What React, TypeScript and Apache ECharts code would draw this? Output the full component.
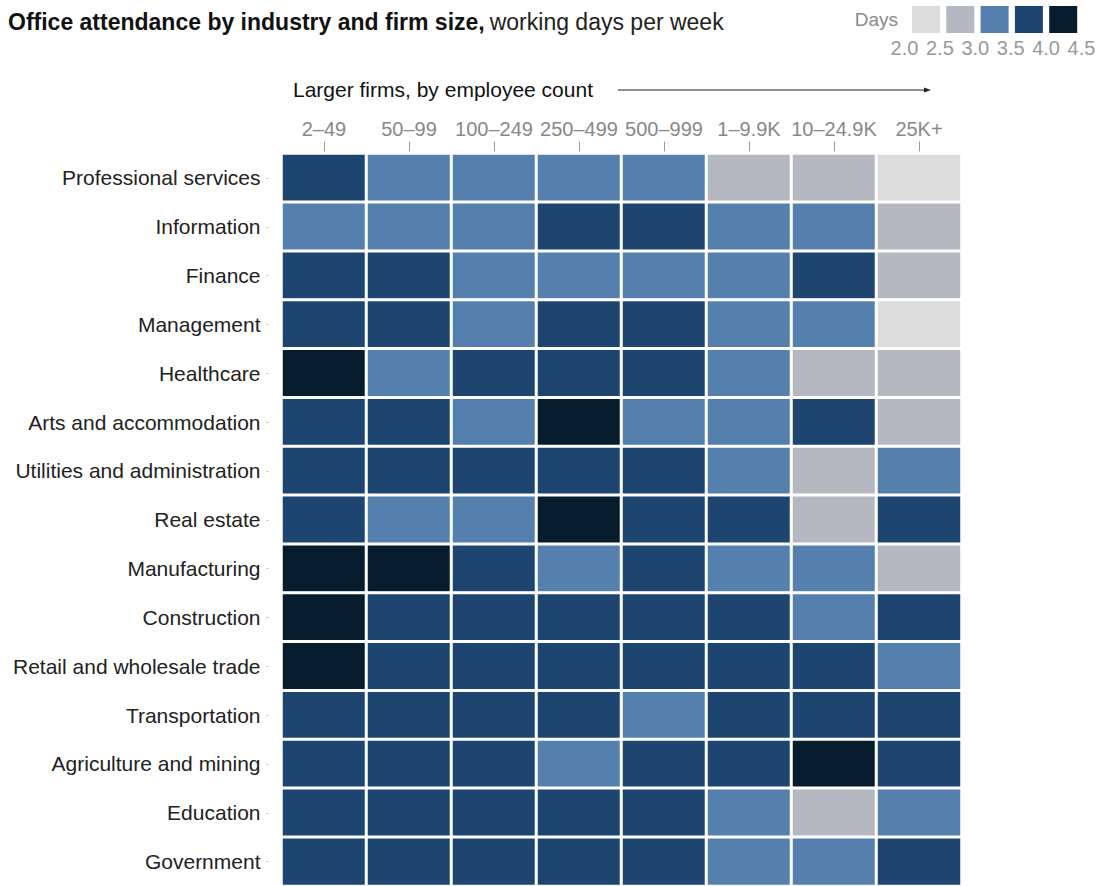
import React, { useEffect, useRef } from "react";
import * as echarts from "echarts";

const firmSizes = ["2–49", "50–99", "100–249", "250–499", "500–999", "1–9.9K", "10–24.9K", "25K+"];

const industries = [
  "Professional services",
  "Information",
  "Finance",
  "Management",
  "Healthcare",
  "Arts and accommodation",
  "Utilities and administration",
  "Real estate",
  "Manufacturing",
  "Construction",
  "Retail and wholesale trade",
  "Transportation",
  "Agriculture and mining",
  "Education",
  "Government",
];

// working days per week, by industry (rows) and firm size (columns)
const attendance: number[][] = [
  [3.7, 3.2, 3.3, 3.2, 3.1, 2.8, 2.7, 2.3],
  [3.3, 3.2, 3.2, 3.6, 3.6, 3.2, 3.1, 2.7],
  [3.7, 3.6, 3.3, 3.2, 3.2, 3.1, 3.6, 2.7],
  [3.8, 3.7, 3.3, 3.6, 3.6, 3.2, 3.1, 2.4],
  [4.1, 3.3, 3.7, 3.7, 3.6, 3.2, 2.8, 2.8],
  [3.8, 3.7, 3.3, 4.1, 3.4, 3.3, 3.6, 2.8],
  [3.8, 3.7, 3.7, 3.6, 3.6, 3.3, 2.9, 3.2],
  [3.8, 3.4, 3.3, 4.1, 3.7, 3.6, 2.9, 3.6],
  [4.1, 4.0, 3.8, 3.4, 3.7, 3.3, 3.3, 2.9],
  [4.2, 3.9, 3.8, 3.8, 3.7, 3.6, 3.4, 3.6],
  [4.1, 3.9, 3.8, 3.8, 3.7, 3.7, 3.6, 3.3],
  [3.9, 3.8, 3.8, 3.7, 3.4, 3.6, 3.6, 3.6],
  [3.9, 3.8, 3.8, 3.4, 3.7, 3.6, 4.1, 3.7],
  [3.8, 3.8, 3.7, 3.7, 3.6, 3.3, 2.9, 3.2],
  [3.8, 3.7, 3.7, 3.7, 3.6, 3.3, 3.2, 3.6],
];

const dayThresholds = [2.0, 2.5, 3.0, 3.5, 4.0, 4.5];
const binColors = ["#dcdcdc", "#b5b8c0", "#5580ad", "#1d456f", "#071d2d"];

const FONT = "'Liberation Sans', Arial, sans-serif";

export default function App() {
  const ref = useRef<HTMLDivElement>(null);

  useEffect(() => {
    if (!ref.current) return;
    const chart = echarts.init(ref.current, null, { renderer: "svg" });

    const data: [number, number, number][] = [];
    attendance.forEach((row, r) => row.forEach((v, c) => data.push([c, r, v])));

    const pieces = binColors.map((color, i) => ({
      gte: dayThresholds[i],
      lt: dayThresholds[i + 1],
      color,
    }));

    const legendEls: any[] = [
      {
        type: "text",
        x: 898,
        y: 19,
        style: {
          text: "Days",
          font: `19px ${FONT}`,
          fill: "#8a8a8a",
          align: "right",
          verticalAlign: "middle",
        },
      },
    ];
    binColors.forEach((color, i) => {
      legendEls.push({
        type: "rect",
        shape: { x: 912 + i * 34.3, y: 6, width: 28, height: 27 },
        style: { fill: color },
      });
    });
    dayThresholds.forEach((t, i) => {
      legendEls.push({
        type: "text",
        x: 904.5 + i * 35.4,
        y: 48,
        style: {
          text: t.toFixed(1),
          font: `20px ${FONT}`,
          fill: "#999",
          align: "center",
          verticalAlign: "middle",
        },
      });
    });

    chart.setOption({
      animation: false,
      title: {
        text: "{b|Office attendance by industry and firm size,} {r|working days per week}",
        left: 8,
        top: 8,
        padding: 0,
        textStyle: {
          rich: {
            b: { fontFamily: FONT, fontWeight: "bold", fontSize: 23, color: "#111", lineHeight: 28 },
            r: { fontFamily: FONT, fontWeight: "normal", fontSize: 23, color: "#222", lineHeight: 28 },
          },
        },
      },
      graphic: [
        ...legendEls,
        {
          type: "text",
          x: 293,
          y: 89,
          style: {
            text: "Larger firms, by employee count",
            font: `21px ${FONT}`,
            fill: "#111",
            verticalAlign: "middle",
          },
        },
        {
          type: "line",
          shape: { x1: 618, y1: 90, x2: 926, y2: 90 },
          style: { stroke: "#222", lineWidth: 1 },
        },
        {
          type: "polygon",
          shape: { points: [[924, 87.5], [931, 90], [924, 92.5]] },
          style: { fill: "#222" },
        },
      ],
      grid: { left: 281.5, top: 153.5, width: 680, height: 735 },
      xAxis: {
        type: "category",
        position: "top",
        data: firmSizes,
        offset: 2,
        axisLine: { show: false },
        axisTick: { show: true, alignWithLabel: true, length: 10, lineStyle: { color: "#999", width: 1 } },
        axisLabel: { color: "#888", fontSize: 20, fontFamily: FONT, margin: 13, interval: 0 },
        splitLine: { show: false },
      },
      yAxis: {
        type: "category",
        data: industries,
        inverse: true,
        offset: 13,
        axisLine: { show: false },
        axisTick: { show: true, alignWithLabel: true, length: 2, lineStyle: { color: "#bbb", width: 1 } },
        axisLabel: { color: "#222", fontSize: 21, fontFamily: FONT, margin: 8, interval: 0 },
        splitLine: { show: false },
      },
      visualMap: {
        type: "piecewise",
        show: false,
        dimension: 2,
        pieces,
      },
      series: [
        {
          type: "heatmap",
          data,
          itemStyle: { borderColor: "#fff", borderWidth: 3 },
          emphasis: { disabled: true },
        },
      ],
    });

    return () => chart.dispose();
  }, []);

  return (
    <div
      ref={ref}
      style={{ position: "absolute", left: 0, top: 0, width: 1115, height: 886, background: "#fff" }}
    />
  );
}
